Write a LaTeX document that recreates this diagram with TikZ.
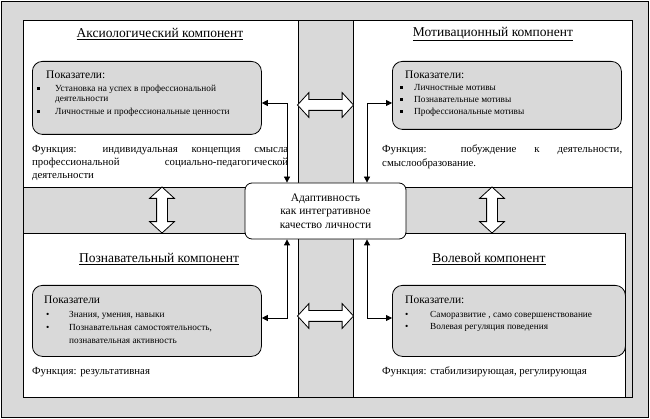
\documentclass[tikz,border=0pt]{standalone}
\usepackage{fontspec}
\setmainfont{Liberation Serif}
\usetikzlibrary{shapes.arrows,arrows.meta}
\definecolor{fon}{RGB}{217,217,217}
\newcommand{\kv}{\rule[0.25ex]{2.5pt}{2.5pt}}

\begin{document}
\begin{tikzpicture}[x=1pt,y=-1pt,
    panel/.style={draw, fill=white, line width=0.8pt},
    pokbox/.style={draw, fill=fon, rounded corners=10pt, anchor=north west, inner sep=0pt, line width=0.8pt},
    centre/.style={draw, fill=white, rounded corners=7pt, align=center, inner sep=0pt, line width=0.8pt,
        minimum width=161pt, minimum height=56pt, font=\fontsize{11.5}{13.5}\selectfont},
    title/.style={font=\fontsize{13.5}{15}\selectfont, inner sep=0pt},
    head/.style={anchor=west, inner sep=0pt, font=\fontsize{11.5}{13}\selectfont},
    item/.style={anchor=west, inner sep=0pt, align=left, font=\fontsize{9.3}{10}\selectfont},
    func/.style={anchor=north west, inner sep=0pt, align=justify, font=\fontsize{10.8}{13}\selectfont},
    link/.style={{Triangle[length=6pt,width=6pt]}-{Triangle[length=6pt,width=6pt]}, line width=0.8pt},
    bigarrow/.style={double arrow, draw, fill=white, inner xsep=0pt, inner ysep=5pt, line width=0.8pt,
        double arrow head extend=7pt, double arrow tip angle=95}]
    \useasboundingbox (0,0) rectangle (650,419);
    % frame and panels
    \draw[fill=fon, line width=0.8pt] (1,1) rectangle (648,417);
    \draw[fill=fon, line width=0.8pt] (23,20) rectangle (632,397);
    \draw[panel] (23,20) rectangle (298,187);
    \draw[panel] (353,20) rectangle (632,187);
    \draw[panel] (23,233) rectangle (298,397);
    \draw[panel] (353,233) rectangle (625,397);

    % big double arrows between the panels
    \node[bigarrow, minimum height=56pt] (strTop) at (325.5,105) {};
    \node[bigarrow, minimum height=56pt] (strBot) at (325.5,316) {};
    \node[bigarrow, minimum height=46pt, rotate=90] (strLeft) at (162,210) {};
    \node[bigarrow, minimum height=46pt, rotate=90] (strRight) at (492,210) {};

    % titles
    \node[title] (tAks) at (160,34) {\underline{Аксиологический компонент}};
    \node[title] (tMot) at (493,34) {\underline{Мотивационный компонент}};
    \node[title] (tPoz) at (159,259) {\underline{Познавательный компонент}};
    \node[title] (tVol) at (489,259) {\underline{Волевой компонент}};

    % indicator boxes
    \node[pokbox, minimum width=229pt, minimum height=73pt] (aksbox) at (32,61) {};
    \node[pokbox, minimum width=229pt, minimum height=68pt] (motbox) at (392,61) {};
    \node[pokbox, minimum width=229pt, minimum height=71pt] (pozbox) at (32,285) {};
    \node[pokbox, minimum width=233pt, minimum height=71pt] (volbox) at (392,285) {};

    % centre
    \node[centre] (centre) at (325.5,211) {Адаптивность\\как интегративное\\качество личности};

    % links from the centre to the boxes
    \coordinate (uzTL) at (287,103);
    \coordinate (uzTR) at (367,103);
    \coordinate (uzBL) at (287,318);
    \coordinate (uzBR) at (367,318);
    \draw[link] (aksbox.east |- uzTL) -- (uzTL) -- (centre.north -| uzTL);
    \draw[link] (motbox.west |- uzTR) -- (uzTR) -- (centre.north -| uzTR);
    \draw[link] (pozbox.east |- uzBL) -- (uzBL) -- (centre.south -| uzBL);
    \draw[link] (volbox.west |- uzBR) -- (uzBR) -- (centre.south -| uzBR);

    % Аксиологический
    \node[head] (hAks) at (46,75) {Показатели:};
    \node[item] (bA1) at (37,89) {\kv};
    \node[item] (iA1) at (55,94) {Установка на успех в профессиональной\\деятельности};
    \node[item] (bA2) at (37,112) {\kv};
    \node[item] (iA2) at (55,112) {Личностные и профессиональные ценности};
    \node[func, text width=256pt] (fAks) at (32,145)
        {Функция: индивидуальная концепция смысла профессиональной социально-педагогической деятельности};

    % Мотивационный
    \node[head] (hMot) at (405,75) {Показатели:};
    \node[item] (bM1) at (400,88) {\kv};
    \node[item] (iM1) at (414,88) {Личностные мотивы};
    \node[item] (bM2) at (400,100) {\kv};
    \node[item] (iM2) at (414,100) {Познавательные мотивы};
    \node[item] (bM3) at (400,112) {\kv};
    \node[item] (iM3) at (414,112) {Профессиональные мотивы};
    \node[func, text width=240pt, font=\fontsize{10.8}{14}\selectfont] (fMot) at (382,145)
        {Функция: побуждение к деятельности, смыслообразование.};

    % Познавательный
    \node[head] (hPoz) at (44,300) {Показатели};
    \node[item] (bP1) at (46,315) {\textbullet};
    \node[item] (iP1) at (69,315) {Знания, умения, навыки};
    \node[item] (bP2) at (46,328) {\textbullet};
    \node[item, font=\fontsize{9.3}{12.5}\selectfont] (iP2) at (69,334) {Познавательная самостоятельность,\\познавательная активность};
    \node[item, font=\fontsize{10.8}{13}\selectfont] (fPoz) at (32,372) {Функция: результативная};

    % Волевой
    \node[head] (hVol) at (405,300) {Показатели:};
    \node[item] (bV1) at (405,315) {\textbullet};
    \node[item] (iV1) at (430,315) {Саморазвитие , само совершенствование};
    \node[item] (bV2) at (405,327) {\textbullet};
    \node[item] (iV2) at (430,327) {Волевая регуляция поведения};
    \node[item, font=\fontsize{10.8}{13}\selectfont] (fVol) at (382,372) {Функция: стабилизирующая, регулирующая};
\end{tikzpicture}
\end{document}
